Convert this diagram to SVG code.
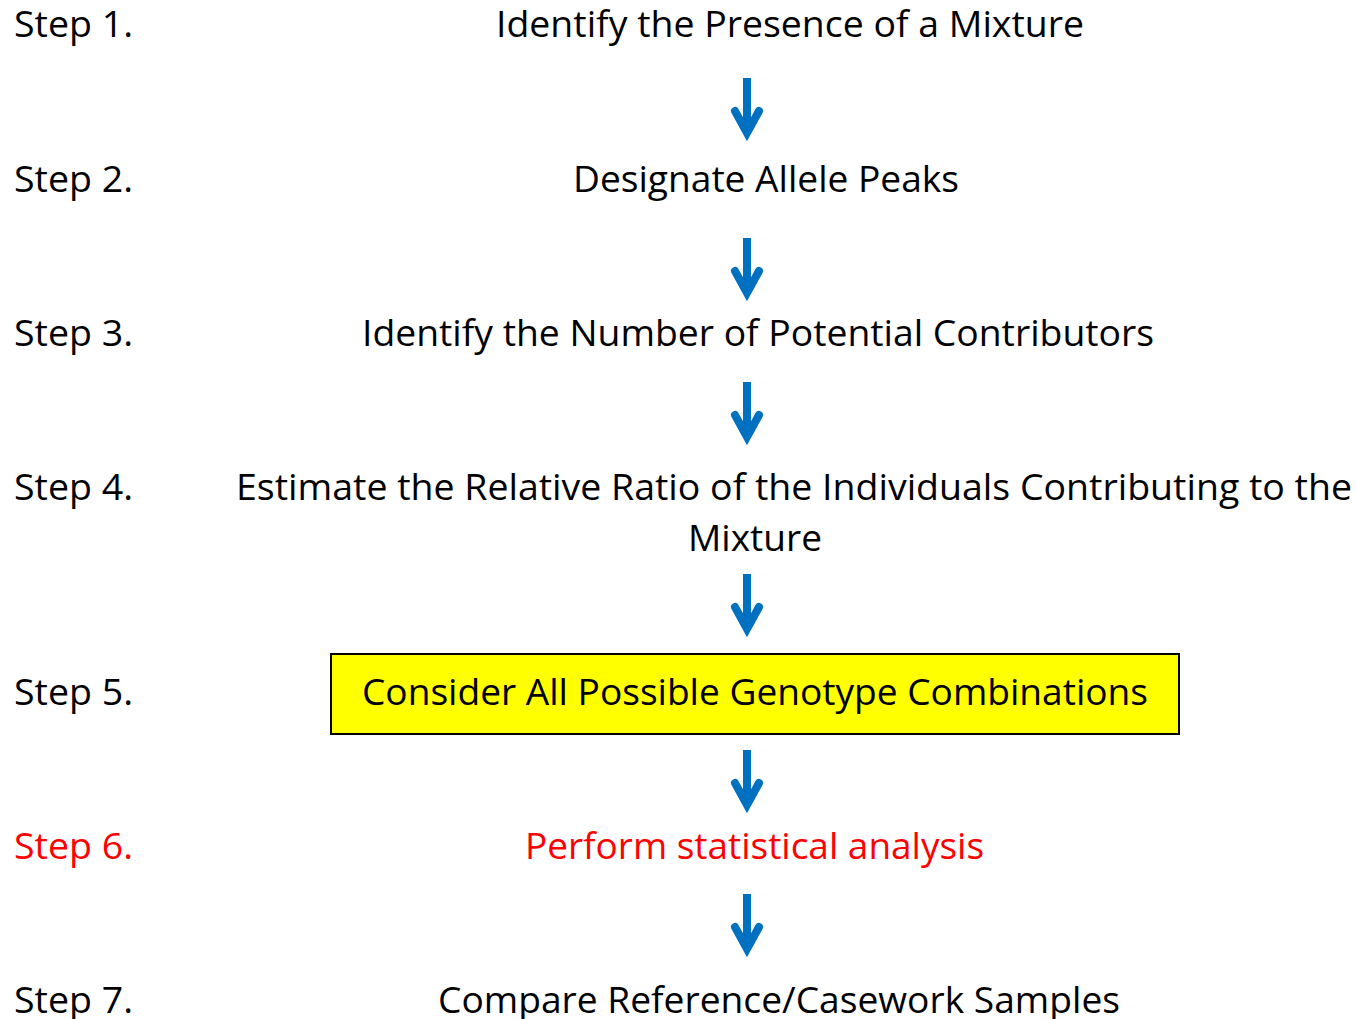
<svg xmlns="http://www.w3.org/2000/svg" xmlns:xlink="http://www.w3.org/1999/xlink" width="1356" height="1019" viewBox="0 0 1356 1019">
<style>
text{font-family:"Open Sans","Noto Sans","Liberation Sans",sans-serif;font-size:36px;fill:#000}
.lbl{text-anchor:start}
.mid{text-anchor:middle}
.red{fill:#FF0000}
.arr{fill:none;stroke:#0070C0;stroke-width:8}
</style>
<defs>
<g id="arrow">
<line class="arr" x1="0" y1="0" x2="0" y2="52" stroke-linecap="butt"/>
<polyline class="arr" points="-12,33 0,55 12,33" stroke-linecap="round" stroke-linejoin="miter"/>
</g>
</defs>
<rect width="1356" height="1019" fill="#fff"/>
<g id="labels">
<text class="lbl" x="14" y="37" textLength="119" lengthAdjust="spacingAndGlyphs">Step 1.</text>
<text class="lbl" x="14" y="192" textLength="119" lengthAdjust="spacingAndGlyphs">Step 2.</text>
<text class="lbl" x="14" y="346" textLength="119" lengthAdjust="spacingAndGlyphs">Step 3.</text>
<text class="lbl" x="14" y="500" textLength="119" lengthAdjust="spacingAndGlyphs">Step 4.</text>
<text class="lbl" x="14" y="705" textLength="119" lengthAdjust="spacingAndGlyphs">Step 5.</text>
<text class="lbl red" x="14" y="859" textLength="119" lengthAdjust="spacingAndGlyphs">Step 6.</text>
<text class="lbl" x="14" y="1013" textLength="119" lengthAdjust="spacingAndGlyphs">Step 7.</text>
</g>
<g id="node1"><text x="496" y="37" textLength="588" lengthAdjust="spacingAndGlyphs">Identify the Presence of a Mixture</text></g>
<g id="node2"><text x="573" y="192" textLength="386" lengthAdjust="spacingAndGlyphs">Designate Allele Peaks</text></g>
<g id="node3"><text x="362" y="346" textLength="792" lengthAdjust="spacingAndGlyphs">Identify the Number of Potential Contributors</text></g>
<g id="node4">
<text x="236" y="500" textLength="1116" lengthAdjust="spacingAndGlyphs">Estimate the Relative Ratio of the Individuals Contributing to the</text>
<text x="688" y="551" textLength="134" lengthAdjust="spacingAndGlyphs">Mixture</text>
</g>
<g id="node5">
<rect x="331" y="654" width="848" height="80" fill="#FFFF00" stroke="#000" stroke-width="2"/>
<text x="362" y="705" textLength="786" lengthAdjust="spacingAndGlyphs">Consider All Possible Genotype Combinations</text>
</g>
<g id="node6"><text class="red" x="525" y="859" textLength="459" lengthAdjust="spacingAndGlyphs">Perform statistical analysis</text></g>
<g id="node7"><text x="438" y="1013" textLength="682" lengthAdjust="spacingAndGlyphs">Compare Reference/Casework Samples</text></g>
<g id="connectors">
<use xlink:href="#arrow" x="747" y="78"/>
<use xlink:href="#arrow" x="747" y="238"/>
<use xlink:href="#arrow" x="747" y="382"/>
<use xlink:href="#arrow" x="747" y="574"/>
<use xlink:href="#arrow" x="747" y="750"/>
<use xlink:href="#arrow" x="747" y="894"/>
</g>
</svg>
